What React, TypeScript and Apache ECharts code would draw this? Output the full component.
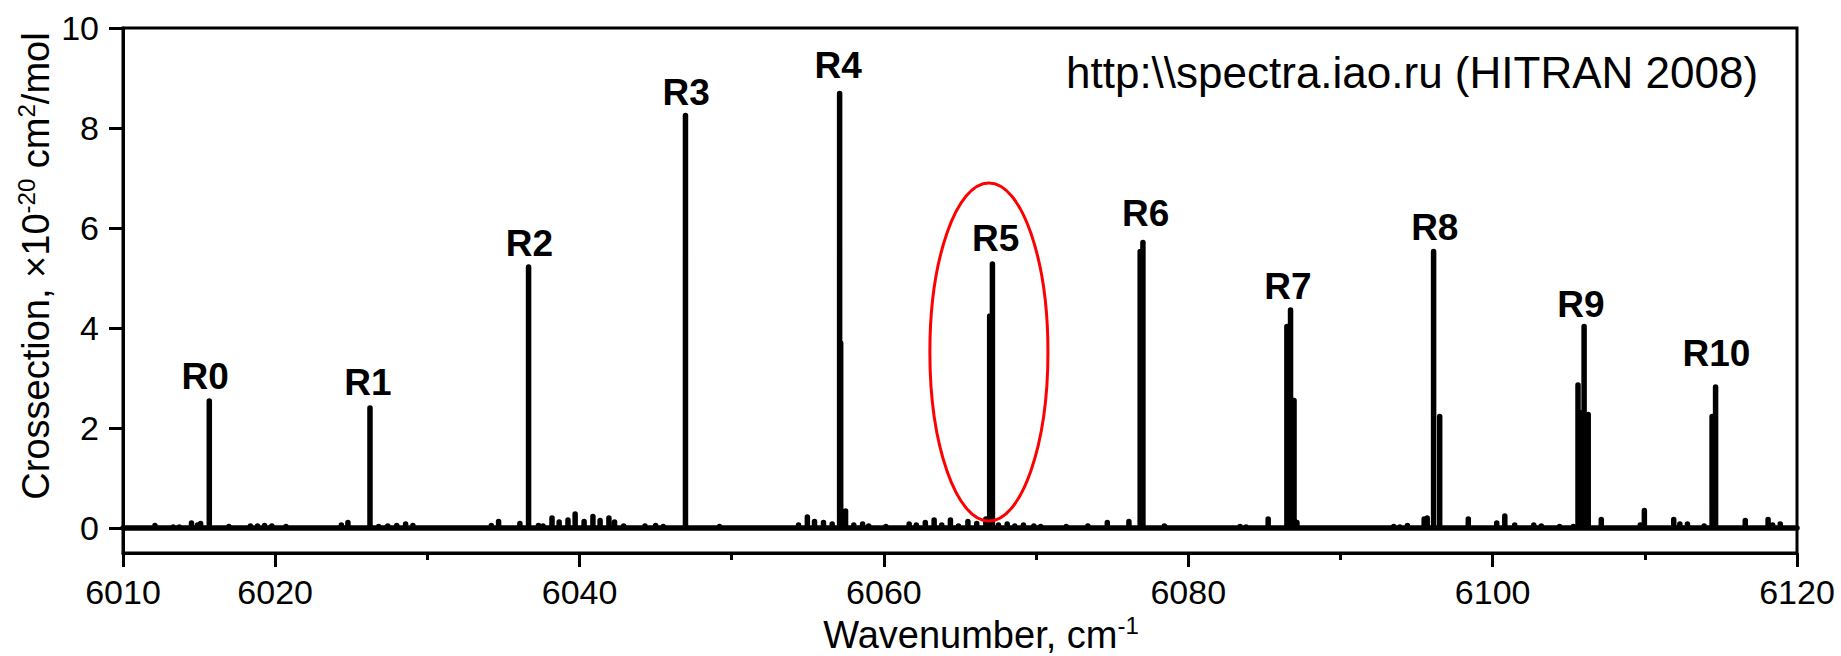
import React, { useEffect, useRef } from "react";
import * as echarts from "echarts";

// Line list (wavenumber, cm-1) and cross-section peak values (x1e-20 cm2/mol)
const lineWavenumbers = [
  6012.1, 6013.3, 6013.7, 6014.5, 6014.9, 6015.1, 6015.67, 6016.96, 6018.37, 6018.84,
  6019.3, 6019.78, 6020.71, 6024.35, 6024.78, 6026.23, 6026.8, 6027.4, 6027.99, 6028.57,
  6029.05, 6034.2, 6034.68, 6036.08, 6036.65, 6037.3, 6037.6, 6038.19, 6038.66, 6039.24,
  6039.71, 6040.3, 6040.88, 6041.35, 6041.93, 6042.3, 6042.9, 6044.3, 6045.0, 6045.5,
  6046.96, 6049.2, 6054.39, 6054.97, 6055.44, 6056.03, 6056.6, 6057.09, 6057.16, 6057.48,
  6058.02, 6058.6, 6059.0, 6060.13, 6061.66, 6062.13, 6062.72, 6063.3, 6063.8, 6064.37,
  6064.9, 6065.52, 6066.1, 6066.7, 6066.95, 6067.13, 6067.53, 6068.1, 6068.6, 6069.17,
  6069.85, 6070.3, 6071.98, 6073.4, 6074.68, 6076.1, 6076.84, 6077.02, 6078.43, 6083.4,
  6083.8, 6085.25, 6086.48, 6086.72, 6086.95, 6087.14, 6093.5, 6093.9, 6094.4, 6095.5,
  6095.7, 6096.12, 6096.52, 6098.4, 6100.27, 6100.8, 6101.45, 6102.7, 6103.2, 6104.4,
  6105.3, 6105.61, 6105.8, 6106.01, 6106.28, 6107.14, 6109.7, 6109.97, 6111.9, 6112.3,
  6112.8, 6113.9, 6114.42, 6114.65, 6116.6, 6118.1, 6118.4, 6118.9,
];
const lineIntensities = [
  0.05, 0.02, 0.02, 0.1, 0.06, 0.09, 2.54, 0.03, 0.04, 0.04,
  0.05, 0.04, 0.03, 0.06, 0.11, 2.4, 0.03, 0.04, 0.05, 0.08,
  0.05, 0.05, 0.13, 0.09, 5.22, 0.05, 0.04, 0.2, 0.12, 0.16,
  0.28, 0.13, 0.23, 0.15, 0.2, 0.12, 0.04, 0.04, 0.05, 0.03,
  8.25, 0.03, 0.06, 0.22, 0.13, 0.11, 0.08, 8.69, 3.7, 0.34,
  0.06, 0.08, 0.04, 0.03, 0.08, 0.06, 0.11, 0.16, 0.06, 0.16,
  0.04, 0.13, 0.09, 0.18, 4.24, 5.28, 0.06, 0.08, 0.04, 0.06,
  0.04, 0.03, 0.03, 0.04, 0.11, 0.13, 5.53, 5.71, 0.04, 0.03,
  0.02, 0.18, 4.03, 4.36, 2.55, 0.11, 0.03, 0.02, 0.05, 0.18,
  0.2, 5.53, 2.23, 0.18, 0.1, 0.24, 0.06, 0.06, 0.04, 0.03,
  0.03, 2.86, 2.3, 4.03, 2.27, 0.17, 0.06, 0.35, 0.17, 0.08,
  0.08, 0.04, 2.23, 2.82, 0.15, 0.17, 0.06, 0.08,
];

// Branch labels and where their baselines sit (data coordinates)
const peakNames = ["R0", "R1", "R2", "R3", "R4", "R5", "R6", "R7", "R8", "R9", "R10"];
const peakLabelX = [6015.4, 6026.1, 6036.7, 6047.0, 6057.0, 6067.35, 6077.2, 6086.55, 6096.2, 6105.8, 6114.7];
const peakLabelY = [2.77, 2.65, 5.43, 8.45, 9.0, 5.53, 6.03, 4.57, 5.76, 4.22, 3.23];

// Axes
const xRange = [6010, 6120];
const yRange = [-0.5, 10];
const xMajorTicks = [6010, 6020, 6040, 6060, 6080, 6100, 6120];
const xMinorTicks = [6030, 6050, 6070, 6090, 6110];
const yTickValues = [0, 2, 4, 6, 8, 10];

// Highlight ellipse around R5 (data coordinates: center and radii)
const highlightCenter = [6066.9, 3.52];
const highlightRadii = [3.88, 3.38];

const sourceNote = "http:\\\\spectra.iao.ru (HITRAN 2008)";

const FONT = "'Liberation Sans', Arial, Helvetica, sans-serif";

function buildSpectrum(): number[][] {
  const idx = lineWavenumbers.map((_, i) => i).sort((a, b) => lineWavenumbers[a] - lineWavenumbers[b]);
  const pts: number[][] = [[xRange[0], 0]];
  idx.forEach((i) => {
    const x = lineWavenumbers[i];
    pts.push([x, 0], [x, lineIntensities[i]], [x, 0]);
  });
  pts.push([xRange[1], 0]);
  return pts;
}

export default function App() {
  const ref = useRef<HTMLDivElement>(null);

  useEffect(() => {
    if (!ref.current) return;
    const chart = echarts.init(ref.current, null, { renderer: "svg" });

    const option: any = {
      animation: false,
      backgroundColor: "#ffffff",
      grid: {
        left: 123,
        top: 28,
        right: 44,
        bottom: 103,
        containLabel: false,
        outerBoundsMode: "none",
        show: true,
        borderColor: "#000",
        borderWidth: 3,
        backgroundColor: "transparent",
      },
      xAxis: [
        {
          type: "value",
          min: xRange[0],
          max: xRange[1],
          interval: 10,
          position: "bottom",
          axisLine: { show: true, onZero: false, lineStyle: { color: "#000", width: 3 } },
          axisTick: {
            show: true,
            customValues: xMajorTicks,
            length: 14,
            lineStyle: { color: "#000", width: 3 },
          },
          axisLabel: {
            show: true,
            customValues: xMajorTicks,
            formatter: (v: number) => String(Math.round(v)),
            margin: 22,
            fontSize: 34,
            fontFamily: FONT,
            color: "#000",
          },
          splitLine: { show: false },
        },
        {
          type: "value",
          min: xRange[0],
          max: xRange[1],
          interval: 10,
          position: "bottom",
          axisLine: { show: false, onZero: false },
          axisTick: {
            show: true,
            customValues: xMinorTicks,
            length: 7,
            lineStyle: { color: "#000", width: 3 },
          },
          axisLabel: { show: false },
          splitLine: { show: false },
        },
      ],
      yAxis: {
        type: "value",
        min: yRange[0],
        max: yRange[1],
        axisLine: { show: true, onZero: false, lineStyle: { color: "#000", width: 3 } },
        axisTick: {
          show: true,
          customValues: yTickValues,
          length: 14,
          lineStyle: { color: "#000", width: 3 },
        },
        axisLabel: {
          show: true,
          customValues: yTickValues,
          formatter: (v: number) => String(v),
          margin: 24,
          fontSize: 34,
          fontFamily: FONT,
          color: "#000",
        },
        splitLine: { show: false },
      },
      series: [
        {
          type: "line",
          xAxisIndex: 0,
          yAxisIndex: 0,
          data: buildSpectrum(),
          showSymbol: false,
          symbol: "none",
          silent: true,
          lineStyle: { color: "#000", width: 5.5, join: "round", cap: "round" },
          z: 3,
        },
      ],
    };
    chart.setOption(option);

    const toPx = (p: number[]) => chart.convertToPixel({ xAxisIndex: 0, yAxisIndex: 0 }, p) as number[];
    const c = toPx(highlightCenter);
    const e = toPx([highlightCenter[0] + highlightRadii[0], highlightCenter[1] + highlightRadii[1]]);

    const peakTexts = peakNames.map((n, i) => {
      const p = toPx([peakLabelX[i], peakLabelY[i]]);
      return {
        type: "text",
        x: p[0],
        y: p[1] - 13,
        silent: true,
        z: 10,
        style: {
          text: n,
          fontSize: 37,
          fontWeight: "bold",
          fontFamily: FONT,
          fill: "#000",
          align: "center",
          verticalAlign: "middle",
        },
      };
    });

    chart.setOption({
      graphic: [
        {
          type: "ellipse",
          shape: { cx: c[0], cy: c[1], rx: Math.abs(e[0] - c[0]), ry: Math.abs(c[1] - e[1]) },
          style: { fill: "none", stroke: "#ff0000", lineWidth: 3 },
          silent: true,
          z: 10,
        },
        ...peakTexts,
        {
          type: "text",
          x: 1066,
          y: 72,
          style: {
            text: sourceNote,
            fontSize: 44,
            fontFamily: FONT,
            fill: "#000",
            align: "left",
            verticalAlign: "middle",
          },
          z: 10,
        },
        {
          type: "text",
          x: 981,
          y: 635,
          style: {
            text: "{t|Wavenumber, cm}{s|-1}",
            align: "center",
            verticalAlign: "middle",
            fill: "#000",
            rich: {
              t: { fontSize: 38, fontFamily: FONT, fill: "#000", lineHeight: 44 },
              s: { fontSize: 24, fontFamily: FONT, fill: "#000", verticalAlign: "top", lineHeight: 24 },
            },
          },
          z: 10,
        },
        {
          type: "text",
          x: 36,
          y: 266,
          rotation: Math.PI / 2,
          style: {
            text: "{t|Crossection, ×10}{s|-20}{t| cm}{s|2}{t|/mol}",
            align: "center",
            verticalAlign: "middle",
            fill: "#000",
            rich: {
              t: { fontSize: 38, fontFamily: FONT, fill: "#000", lineHeight: 44 },
              s: { fontSize: 24, fontFamily: FONT, fill: "#000", verticalAlign: "top", lineHeight: 24 },
            },
          },
          z: 10,
        },
      ],
    });

    return () => chart.dispose();
  }, []);

  return (
    <div
      ref={ref}
      style={{ position: "fixed", left: 0, top: 0, width: 1841, height: 656, background: "#fff" }}
    />
  );
}
